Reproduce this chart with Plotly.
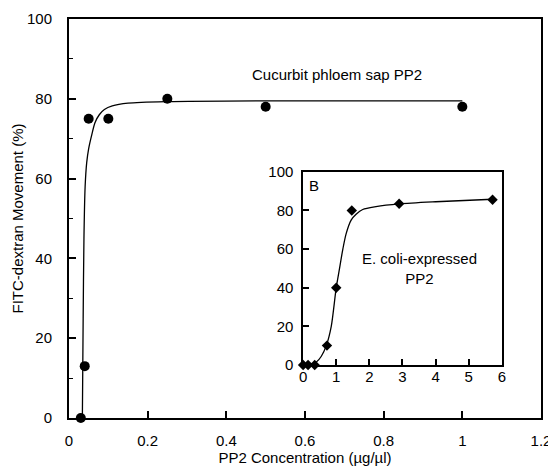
import plotly.graph_objects as go

# Main panel: cucurbit phloem sap PP2
main_x = [0.03, 0.04, 0.05, 0.10, 0.25, 0.50, 1.00]
main_y = [0, 13, 75, 75, 80, 78, 78]
main_fit_x = [0.034, 0.036, 0.038, 0.041, 0.045, 0.050, 0.058, 0.066, 0.077, 0.090, 0.110, 0.150, 0.250, 0.500, 1.000]
main_fit_y = [0, 25, 45, 58, 64, 67.5, 71, 74, 76, 77.3, 78.2, 78.9, 79.3, 79.5, 79.5]

# Inset B: E. coli-expressed PP2
inset_x = [0.0, 0.15, 0.35, 0.72, 1.0, 1.47, 2.9, 5.72]
inset_y = [0, 0, 0, 10, 40, 80, 83.5, 85.5]
inset_fit_x = [0.0, 0.2, 0.4, 0.55, 0.7, 0.85, 1.0, 1.1, 1.2, 1.3, 1.45, 1.6, 1.8, 2.2, 2.9, 4.0, 5.72]
inset_fit_y = [0, 0.3, 1.5, 4.5, 10, 20, 40, 50, 60, 68, 75, 78, 80.5, 82, 83.4, 84.5, 85.8]

main_xticks = [0, 0.2, 0.4, 0.6, 0.8, 1, 1.2]
main_xlabels = ["0", "0.2", "0.4", "0.6", "0.8", "1", "1.2"]
main_yticks = [0, 20, 40, 60, 80, 100]
inset_xticks = [0, 1, 2, 3, 4, 5, 6]
inset_yticks = [0, 20, 40, 60, 80, 100]

FONT = "Liberation Sans, Arial, Helvetica, sans-serif"
FS = 15

fig = go.Figure()
fig.add_trace(go.Scatter(x=main_fit_x, y=main_fit_y, mode="lines",
                         line=dict(color="black", width=1.3, shape="spline", smoothing=0.8),
                         xaxis="x", yaxis="y", hoverinfo="skip"))
fig.add_trace(go.Scatter(x=main_x, y=main_y, mode="markers",
                         marker=dict(symbol="circle", size=10, color="black"),
                         xaxis="x", yaxis="y", cliponaxis=False))
fig.add_trace(go.Scatter(x=inset_fit_x, y=inset_fit_y, mode="lines",
                         line=dict(color="black", width=1.3, shape="spline", smoothing=0.8),
                         xaxis="x2", yaxis="y2", hoverinfo="skip"))
fig.add_trace(go.Scatter(x=inset_x, y=inset_y, mode="markers",
                         marker=dict(symbol="diamond", size=8, color="black"),
                         xaxis="x2", yaxis="y2", cliponaxis=False))

axis_common = dict(showgrid=False, zeroline=False, color="black", automargin=False,
                   tickfont=dict(family=FONT, size=FS, color="black"))

# The page body has an 8px default margin, so the figure is sized to fit the window.
fig.update_layout(
    width=548, height=460,
    margin=dict(l=61, r=15, t=11, b=50, autoexpand=False),
    paper_bgcolor="white", plot_bgcolor="white",
    showlegend=False,
    font=dict(family=FONT, size=FS, color="black"),
    xaxis=dict(range=[0, 1.2], tickvals=main_xticks, ticktext=main_xlabels,
               ticks="inside", ticklen=7, tickwidth=1.5, showline=True, linewidth=2,
               linecolor="black", mirror=True, ticklabelstandoff=8,
               title=dict(text="PP2 Concentration (\u00b5g/\u00b5l)", standoff=2,
                          font=dict(family=FONT, size=FS, color="black")),
               **axis_common),
    yaxis=dict(range=[0, 100], tickvals=main_yticks,
               ticks="inside", ticklen=7, tickwidth=1.5, showline=True, linewidth=2,
               linecolor="black", mirror=True, ticklabelstandoff=12,
               minor=dict(dtick=10, ticks="inside", ticklen=4, tickwidth=1, tickcolor="black"),
               title=dict(text="FITC-dextran Movement (%)", standoff=0,
                          font=dict(family=FONT, size=FS, color="black")),
               **axis_common),
    xaxis2=dict(domain=[0.496, 0.917], anchor="y2", range=[0, 6], tickvals=inset_xticks,
                ticks="inside", ticklen=6, tickwidth=1.5, showline=True, linewidth=1.5,
                linecolor="black", mirror=True, ticklabelstandoff=-3,
                **axis_common),
    yaxis2=dict(domain=[0.133, 0.617], anchor="x2", range=[0, 100], tickvals=inset_yticks,
                ticks="inside", ticklen=6, tickwidth=1.5, showline=True, linewidth=1.5,
                linecolor="black", mirror=True, ticklabelstandoff=5,
                **axis_common),
    annotations=[
        dict(text="Cucurbit phloem sap PP2", x=0.567, y=0.862, xref="paper", yref="paper",
             showarrow=False, font=dict(family=FONT, size=FS, color="black"),
             xanchor="center", yanchor="middle"),
        dict(text="B", x=0.02, y=0.985, xref="x2 domain", yref="y2 domain",
             showarrow=False, font=dict(family=FONT, size=FS, color="black"),
             xanchor="left", yanchor="top"),
        dict(text="E. coli-expressed<br>PP2", x=3.5, y=50, xref="x2", yref="y2",
             showarrow=False, font=dict(family=FONT, size=FS, color="black"),
             xanchor="center", yanchor="middle"),
    ],
)

fig.write_html("out.html")
